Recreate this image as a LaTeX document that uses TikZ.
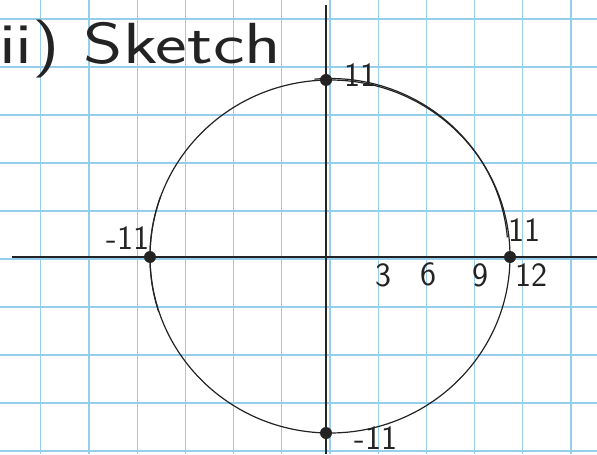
\documentclass[tikz,border=0pt]{standalone}
\usepackage{tikz}

\definecolor{gridblue}{RGB}{150,205,235}
\definecolor{pencil}{RGB}{35,35,35}
\tikzset{
  gridline/.style={gridblue,line width=0.6pt},
  axisline/.style={pencil,line width=1pt},
  sketchline/.style={pencil,line width=0.6pt},
  ptdot/.style={circle,fill=pencil,inner sep=0pt,minimum size=6pt},
  lbl/.style={font=\sffamily\fontsize{17}{18}\selectfont,text=pencil,inner sep=0pt},
}

\begin{document}
\begin{tikzpicture}[x=0.5pt,y=0.5pt]
\useasboundingbox (-326,-197) rectangle (271,257);

% grid paper
\foreach \k in {-6,...,5}
  \draw[gridline] (4+48.2*\k,-197) -- (4+48.2*\k,257);
\foreach \k in {-4,...,5}
  \draw[gridline] (-326,-2+48*\k) -- (271,-2+48*\k);

% title
\node[font=\sffamily\fontsize{29}{31}\selectfont,text=pencil,anchor=west] (title) at (-334,208) {\scalebox{1.3}[1]{ii) Sketch}};

% axes
\draw[axisline] (-314,0) -- (271,0);
\draw[axisline] (0,252) -- (0,-197);

% the circle, with a few strokes gone over twice
\draw[sketchline] (4,0.5) ellipse [x radius=180, y radius=176.5];
\draw[sketchline] (4,0.5) ++(95:178) arc[start angle=95, end angle=5, x radius=178, y radius=174];
\draw[sketchline] (2,0) ++(160:178) arc[start angle=160, end angle=198, radius=178];

% intercepts
\node[ptdot] (ytop) at (0,177) {};
\node[ptdot] (xleft) at (-176,0) {};
\node[ptdot] (xright) at (184,0) {};
\node[ptdot] (ybot) at (0,-176) {};

\node[lbl] (lbltop) at (34,182) {11};
\node[lbl] (lblleft) at (-198,19) {-11};
\node[lbl] (lblright) at (198,27) {11};
\node[lbl] (lblbot) at (50,-181) {-11};

% ticks
\node[lbl] (t3) at (57,-18) {3};
\node[lbl] (t6) at (102,-17) {6};
\node[lbl] (t9) at (154,-18) {9};
\node[lbl] (t12) at (205,-18) {12};
\end{tikzpicture}
\end{document}
